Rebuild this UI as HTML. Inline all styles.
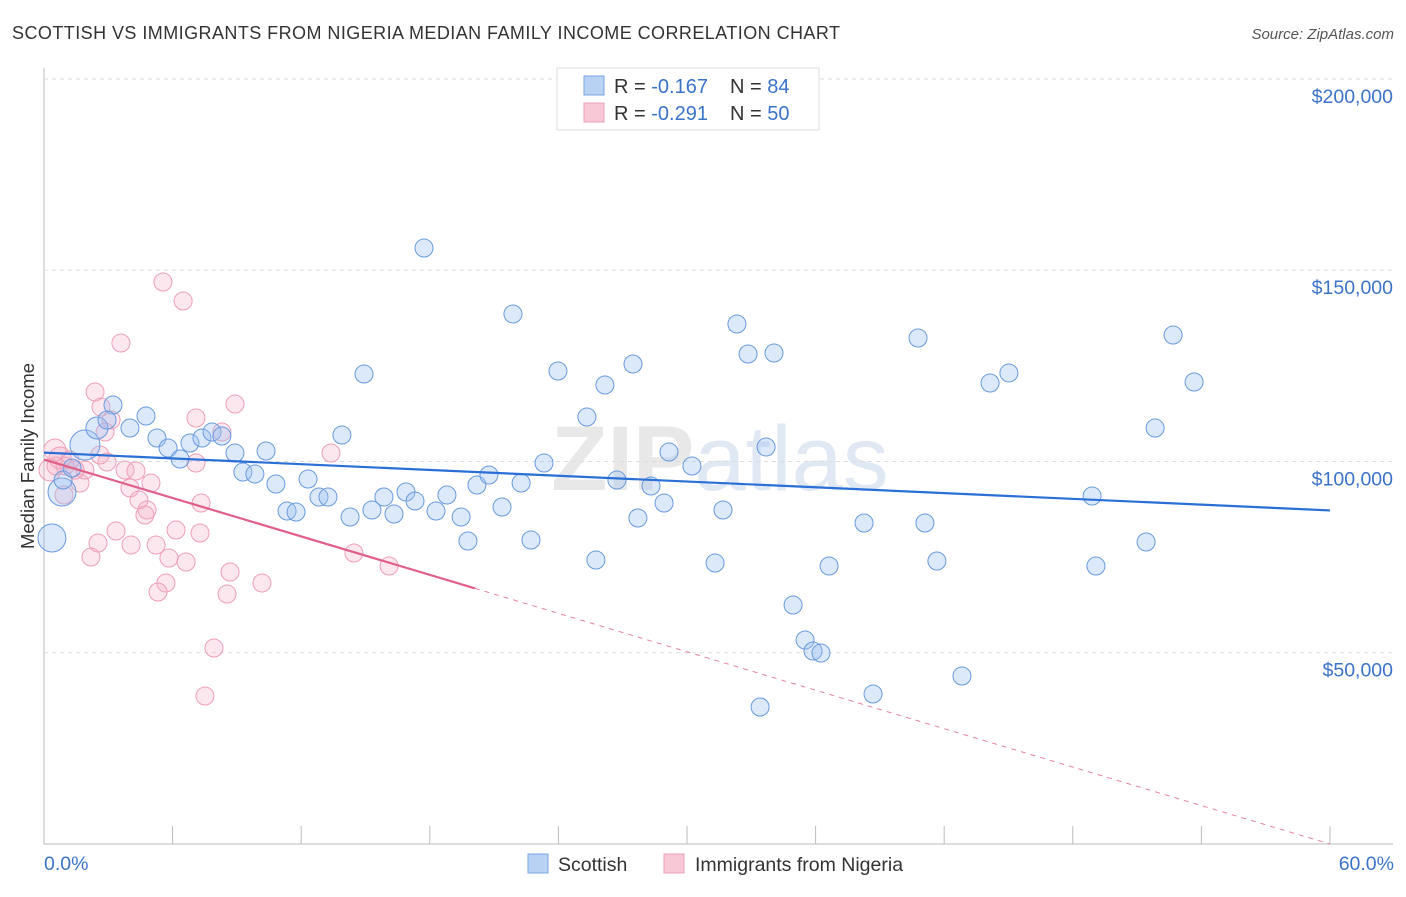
<!DOCTYPE html>
<html><head><meta charset="utf-8"><style>
body{margin:0;background:#fff;font-family:"Liberation Sans",sans-serif}
svg text{font-family:"Liberation Sans",sans-serif}
</style></head><body>
<svg id="c" width="1406" height="892">
<text x="12" y="39" font-size="18" fill="#333" textLength="828">SCOTTISH VS IMMIGRANTS FROM NIGERIA MEDIAN FAMILY INCOME CORRELATION CHART</text>
<text x="1394" y="39" font-size="15" fill="#555" text-anchor="end" font-style="italic">Source: ZipAtlas.com</text>
<text x="720" y="490" font-size="92" fill="#e8e8e8" text-anchor="middle" font-family="Liberation Serif" font-weight="bold">ZIP<tspan font-family="Liberation Sans" font-weight="normal" fill="#e0e8f4">atlas</tspan></text>
<g id="grid"></g>
<g id="pts"></g>
<g id="lines"></g>
<text transform="translate(34,456) rotate(-90)" font-size="18.5" fill="#333" text-anchor="middle">Median Family Income</text>
<text x="44" y="870" font-size="19.5" fill="#3b73c9">0.0%</text>
<text x="1394" y="870" font-size="19.5" fill="#3b73c9" text-anchor="end">60.0%</text>
<g>
<rect x="557" y="68" width="262" height="62" fill="#fff" stroke="#ddd"/>
<rect x="584" y="76" width="20" height="19" fill="#b8d2f4" stroke="#7aa5e0"/>
<rect x="584" y="103" width="20" height="19" fill="#f9c8d6" stroke="#eea0b8"/>
<text x="614" y="93" font-size="20" fill="#333">R = <tspan fill="#3b73c9">-0.167</tspan><tspan x="730">N = </tspan><tspan fill="#3b73c9">84</tspan></text>
<text x="614" y="120" font-size="20" fill="#333">R = <tspan fill="#3b73c9">-0.291</tspan><tspan x="730">N = </tspan><tspan fill="#3b73c9">50</tspan></text>
</g>
<g>
<rect x="528" y="854" width="20" height="19" fill="#b8d2f4" stroke="#7aa5e0"/>
<text x="558" y="871" font-size="19.5" fill="#333">Scottish</text>
<rect x="664" y="854" width="20" height="19" fill="#f9c8d6" stroke="#eea0b8"/>
<text x="695" y="871" font-size="19.5" fill="#333">Immigrants from Nigeria</text>
</g>
</svg>
<script>
const yTicks=[50000,100000,150000,200000];
const yTickLabels=["$50,000","$100,000","$150,000","$200,000"];
const xTicks=[0,6,12,18,24,30,36,42,48,54,60];
const bluePx=[[52,538,14],[62,492,14],[85,445,15],[97,428,11],[63,480,9],[72,468,9],[113,405],[107,420],[130,428],[146,416],[157,438],[168,448],[180,459],[190,443],[202,438],[212,432],[222,436],[235,453],[243,472],[255,474],[266,451],[276,484],[287,511],[296,512],[308,479],[319,497],[328,497],[342,435],[350,517],[364,374],[372,510],[384,497],[394,514],[406,492],[415,501],[424,248],[436,511],[447,495],[461,517],[468,541],[477,485],[489,475],[502,507],[513,314],[521,483],[531,540],[544,463],[558,371],[587,417],[596,560],[605,385],[617,480],[633,364],[638,518],[651,486],[664,503],[669,452],[692,466],[715,563],[723,510],[737,324],[748,354],[766,447],[760,707],[774,353],[793,605],[805,640],[813,651],[821,653],[829,566],[864,523],[873,694],[918,338],[925,523],[937,561],[962,676],[990,383],[1009,373],[1092,496],[1096,566],[1146,542],[1155,428],[1173,335],[1194,382]];
const pinkPx=[[163,282],[183,301],[121,343],[95,392],[101,407],[111,420],[105,432],[235,404],[196,418],[222,432],[196,463],[331,453],[107,462],[125,470],[136,471],[151,483],[130,488],[139,500],[147,510],[145,515],[201,503],[176,530],[200,533],[116,531],[98,543],[91,557],[131,545],[156,545],[169,558],[186,562],[230,572],[262,583],[354,553],[389,566],[166,583],[158,592],[227,594],[214,648],[205,696],[55,450,11],[60,458,11],[50,470,11],[70,460],[80,483],[64,495],[85,470],[75,470],[65,466],[56,466],[100,455]];
const toX=p=>+((p-44)/21.433).toFixed(2), toY=p=>Math.round((844-p)*261.4);
const blueX=bluePx.map(d=>toX(d[0])), blueY=bluePx.map(d=>toY(d[1])), blueR=bluePx.map(d=>d[2]||9);
const pinkX=pinkPx.map(d=>toX(d[0])), pinkY=pinkPx.map(d=>toY(d[1])), pinkR=pinkPx.map(d=>d[2]||9);
const blueTrend=[102300,87200];
const pinkTrend=[100500,0]; const pinkSolidEnd=20.1;
const sx=v=>44+v*21.433, sy=v=>844-v/261.4;
const NS="http://www.w3.org/2000/svg";
function mk(t,a,p){const e=document.createElementNS(NS,t);for(const k in a)e.setAttribute(k,a[k]);p.appendChild(e);return e;}
const grid=document.getElementById('grid');
let ax=mk('line',{x1:44,y1:68,x2:44,y2:844,stroke:'#bbb'},grid);

let bx=mk('line',{x1:44,y1:844,x2:1393,y2:844,stroke:'#bbb'},grid);

mk('line',{x1:44,y1:79,x2:1393,y2:79,stroke:'#ddd','stroke-dasharray':'4,4'},grid);
yTicks.forEach((v,i)=>{const g=mk('line',{x1:44,y1:sy(v),x2:1393,y2:sy(v),stroke:'#ddd','stroke-dasharray':'4,4'},grid);

const t=mk('text',{x:1393,y:sy(v)+24,'font-size':19.5,fill:'#3b73c9','text-anchor':'end'},grid);t.textContent=yTickLabels[i];
});
xTicks.forEach(v=>{const l=mk('line',{x1:sx(v),y1:826,x2:sx(v),y2:844,stroke:'#bbb'},grid);
});
const pts=document.getElementById('pts');
pinkX.forEach((x,i)=>{const c=mk('circle',{cx:sx(x),cy:sy(pinkY[i]),r:pinkR[i],fill:'rgba(246,175,198,0.3)',stroke:'#ee9fb7','stroke-width':1},pts);
});
blueX.forEach((x,i)=>{const c=mk('circle',{cx:sx(x),cy:sy(blueY[i]),r:blueR[i],fill:'rgba(155,193,240,0.35)',stroke:'#6a9ade','stroke-width':1},pts);
});
const ln=document.getElementById('lines');
let b=mk('line',{x1:sx(0),y1:sy(blueTrend[0]),x2:sx(60),y2:sy(blueTrend[1]),stroke:'#2a6fd6','stroke-width':2.2},ln);

const pv=x=>pinkTrend[0]+(pinkTrend[1]-pinkTrend[0])*x/60;
let p=mk('line',{x1:sx(0),y1:sy(pv(0)),x2:sx(pinkSolidEnd),y2:sy(pv(pinkSolidEnd)),stroke:'#e0608a','stroke-width':2.2},ln);

let pd=mk('line',{x1:sx(pinkSolidEnd),y1:sy(pv(pinkSolidEnd)),x2:sx(60),y2:sy(pv(60)),stroke:'#e8839f','stroke-width':1,'stroke-dasharray':'5,5'},ln);

</script>
</body></html>
